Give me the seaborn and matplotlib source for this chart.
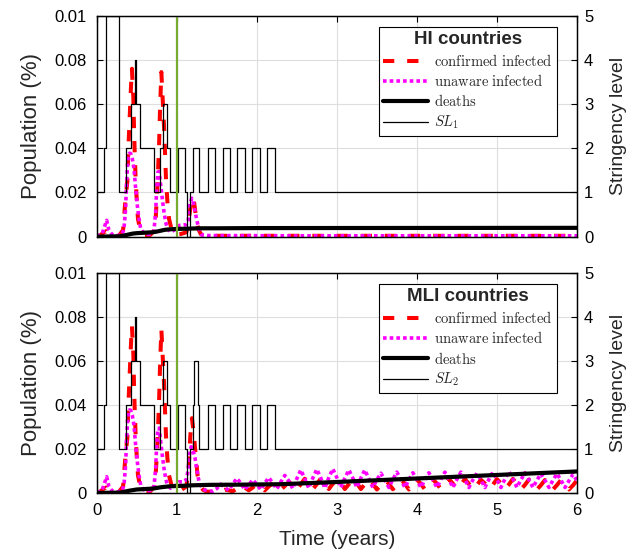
import numpy as np
import pandas as pd
import matplotlib
matplotlib.use("Agg")
import matplotlib.pyplot as plt
import seaborn as sns

# values (time in years, population in %)

# first two waves, about the same in both groups of countries
t_wave = [0, 0.05, 0.09, 0.12, 0.16, 0.22, 0.28, 0.33, 0.36, 0.383, 0.395, 0.41, 0.425, 0.44,
          0.458, 0.466, 0.475, 0.487, 0.50, 0.516, 0.55, 0.6, 0.67, 0.72, 0.737, 0.758, 0.779,
          0.791, 0.808, 0.825, 0.841, 0.854, 0.866, 0.883, 0.904, 0.945, 0.99, 1.05]
conf_wave = [0, 0.0008, 0.002, 0.0025, 0.0012, 0.0006, 0.0006, 0.003, 0.017, 0.025, 0.039, 0.052,
             0.065, 0.076, 0.063, 0.050, 0.038, 0.026, 0.017, 0.008, 0.002, 0.0008, 0.0008, 0.003,
             0.008, 0.022, 0.041, 0.057, 0.0745, 0.062, 0.050, 0.038, 0.026, 0.016, 0.008, 0.002,
             0.001, 0.0012]
t_unaw_wave = [0, 0.05, 0.07, 0.091, 0.125, 0.153, 0.195, 0.26, 0.32, 0.341, 0.362, 0.37, 0.383,
               0.395, 0.41, 0.425, 0.445, 0.466, 0.487, 0.508, 0.529, 0.55, 0.59, 0.65, 0.70,
               0.716, 0.737, 0.749, 0.766, 0.78, 0.80, 0.82, 0.841, 0.862, 0.883, 0.925, 0.97, 1.03]
unaw_wave = [0.0003, 0.0008, 0.0015, 0.0038, 0.0074, 0.0029, 0.0009, 0.0005, 0.0012, 0.0036,
             0.0127, 0.0217, 0.0308, 0.0368, 0.0378, 0.0376, 0.0353, 0.0308, 0.0217, 0.0141,
             0.0081, 0.0036, 0.0014, 0.001, 0.0015, 0.0029, 0.0112, 0.0217, 0.0293, 0.0295,
             0.0232, 0.0171, 0.0112, 0.0066, 0.0036, 0.0021, 0.003, 0.0051]

# HI countries: small third wave then nothing
t_conf_hi_tail = [1.12, 1.145, 1.17, 1.2, 1.215, 1.23, 1.25, 1.27, 1.3, 1.35, 1.5, 2.5, 4, 6]
conf_hi_tail = [0.002, 0.006, 0.013, 0.018, 0.016, 0.012, 0.007, 0.0035, 0.0012, 0.0005,
                0.0004, 0.0004, 0.0004, 0.0004]
t_unaw_hi_tail = [1.08, 1.12, 1.145, 1.158, 1.187, 1.208, 1.229, 1.25, 1.27, 1.29, 1.31, 1.4,
                  2.5, 4, 6]
unaw_hi_tail = [0.0052, 0.0055, 0.0076, 0.0136, 0.0174, 0.0152, 0.0114, 0.0076, 0.0046, 0.0023,
                0.0008, 0.0005, 0.0004, 0.0004, 0.0004]
t_deaths_hi = [0, 0.3, 0.35, 0.4, 0.45, 0.5, 0.6, 0.7, 0.75, 0.8, 0.85, 0.9, 1.0, 1.1, 1.2, 1.3,
               1.5, 2, 6]
deaths_hi = [0, 0.0002, 0.0006, 0.001, 0.0014, 0.0016, 0.0018, 0.002, 0.0023, 0.0027, 0.0031,
             0.0033, 0.0035, 0.0036, 0.0037, 0.0038, 0.0038, 0.0039, 0.0040]

# MLI countries: bigger third wave, then endemic ripples
t_conf_mli_tail = [1.12, 1.15, 1.17, 1.19, 1.21, 1.23, 1.245, 1.26, 1.29, 1.33, 1.38]
conf_mli_tail = [0.003, 0.012, 0.026, 0.034, 0.028, 0.020, 0.014, 0.008, 0.0037, 0.0014, 0.0006]
t_unaw_mli_tail = [1.08, 1.12, 1.145, 1.16, 1.18, 1.20, 1.229, 1.25, 1.27, 1.29, 1.35, 1.40]
unaw_mli_tail = [0.005, 0.006, 0.011, 0.0173, 0.021, 0.020, 0.0158, 0.0112, 0.0067, 0.0037,
                 0.0014, 0.0009]
t_ripple = np.round(np.arange(1.45, 6.001, 0.05), 2)
conf_ripple = [0.0006, 0.0004, 0.0008, 0.0015, 0.0012, 0.0008, 0.002, 0.0038,
               0.0025, 0.0012, 0.0025, 0.004, 0.003, 0.0012, 0.003, 0.0045,
               0.0032, 0.0014, 0.0032, 0.005, 0.0038, 0.0015, 0.004, 0.0065,
               0.0045, 0.0018, 0.004, 0.0066, 0.0045, 0.0018, 0.0042, 0.0068,
               0.0046, 0.0018, 0.004, 0.0066, 0.0045, 0.0018, 0.004, 0.0064,
               0.0042, 0.0016, 0.0036, 0.006, 0.0042, 0.0017, 0.0038, 0.0062,
               0.0042, 0.0016, 0.0037, 0.0061, 0.0042, 0.0016, 0.0037, 0.0061,
               0.0043, 0.0017, 0.0038, 0.0063, 0.0043, 0.0017, 0.0038, 0.0063,
               0.0042, 0.0016, 0.0036, 0.006, 0.0043, 0.0017, 0.0038, 0.0063,
               0.0044, 0.0017, 0.0039, 0.0064, 0.0042, 0.0016, 0.0037, 0.0061,
               0.0041, 0.0016, 0.0036, 0.0059, 0.0041, 0.0016, 0.0036, 0.0059,
               0.004, 0.0016, 0.0035, 0.0058]
unaw_ripple = [0.0008, 0.002, 0.004, 0.0025, 0.0012, 0.004, 0.0067, 0.0045,
               0.0015, 0.0038, 0.006, 0.004, 0.0015, 0.0045, 0.007, 0.0045,
               0.0018, 0.005, 0.008, 0.0055, 0.002, 0.0065, 0.0105, 0.0065,
               0.0022, 0.0068, 0.0108, 0.0068, 0.0022, 0.007, 0.011, 0.007,
               0.0025, 0.0068, 0.0105, 0.0068, 0.0025, 0.0068, 0.0105, 0.0065,
               0.0025, 0.006, 0.009, 0.006, 0.0025, 0.0062, 0.0095, 0.0062,
               0.0025, 0.006, 0.0092, 0.006, 0.0025, 0.006, 0.0092, 0.006,
               0.0025, 0.0062, 0.0095, 0.0062, 0.0025, 0.0062, 0.0095, 0.0062,
               0.0025, 0.006, 0.009, 0.006, 0.0025, 0.0062, 0.0095, 0.0062,
               0.0025, 0.0064, 0.0098, 0.0064, 0.0025, 0.006, 0.0092, 0.006,
               0.0025, 0.0058, 0.0088, 0.0058, 0.0025, 0.0058, 0.0088, 0.0058,
               0.0025, 0.0056, 0.0085, 0.0056]
t_deaths_mli = [0, 0.3, 0.4, 0.5, 0.6, 0.7, 0.8, 0.9, 1.0, 1.1, 1.2, 1.4, 1.8, 2.3, 3, 4, 5, 6]
deaths_mli = [0, 0.0002, 0.001, 0.0016, 0.0018, 0.002, 0.0026, 0.003, 0.0032, 0.0033, 0.0035,
              0.0037, 0.0038, 0.0040, 0.0050, 0.0066, 0.0082, 0.0098]

# stringency level (step changes)
t_sl = [0, 0.091, 0.12, 0.279, 0.37, 0.425, 0.475, 0.487, 0.537, 0.716, 0.79, 0.833, 0.875,
        0.92, 1.02, 1.10, 1.125, 1.16, 1.2, 1.22, 1.26, 1.283, 1.395, 1.479, 1.575, 1.666,
        1.758, 1.854, 1.937, 2.04, 2.125, 2.229, 6]
sl_1 = [1, 2, 5, 1, 2, 3, 4, 3, 2, 1, 2, 3, 2, 1, 2, 1, 0, 1, 2, 2, 2, 1, 2, 1, 2, 1, 2, 1, 2,
        1, 2, 1, 1]
sl_2 = [1, 2, 5, 1, 2, 3, 4, 3, 2, 1, 2, 3, 2, 1, 2, 1, 0, 1, 2, 3, 2, 1, 2, 1, 2, 1, 2, 1, 2,
        1, 2, 1, 1]

t_marker = [1.0]

ytick_vals = [0, 0.02, 0.04, 0.06, 0.08, 0.1]
ytick_text = ['0', '0.02', '0.04', '0.06', '0.08', '0.01']
xtick_vals = [0, 1, 2, 3, 4, 5, 6]

sns.set_theme(style='white')
plt.rcParams['font.family'] = ['Liberation Sans', 'DejaVu Sans']
plt.rcParams['mathtext.fontset'] = 'cm'

RED = '#FF0000'
MAG = '#FF00FF'
GREEN = '#77AC30'

fig = plt.figure(figsize=(6.29, 5.53), dpi=100)
ax_top = fig.add_axes([0.1537, 0.5720, 0.7636, 0.3996])
ax_bot = fig.add_axes([0.1537, 0.1085, 0.7636, 0.3978])

panels = [
    (ax_top, t_wave + t_conf_hi_tail, conf_wave + conf_hi_tail,
     t_unaw_wave + t_unaw_hi_tail, unaw_wave + unaw_hi_tail,
     t_deaths_hi, deaths_hi, sl_1, 'HI countries', r'$SL_1$', 0.949),
    (ax_bot, t_wave + t_conf_mli_tail + list(t_ripple), conf_wave + conf_mli_tail + conf_ripple,
     t_unaw_wave + t_unaw_mli_tail + list(t_ripple), unaw_wave + unaw_mli_tail + unaw_ripple,
     t_deaths_mli, deaths_mli, sl_2, 'MLI countries', r'$SL_2$', 0.95),
]

for ax, tc, conf, tu, unaw, td, deaths, sl, title, sl_lab, leg_y in panels:
    df_c = pd.DataFrame({'t': tc, 'v': conf})
    df_u = pd.DataFrame({'t': tu, 'v': unaw})
    df_d = pd.DataFrame({'t': td, 'v': deaths})
    df_s = pd.DataFrame({'t': t_sl, 'sl': sl})

    sns.lineplot(data=df_c, x='t', y='v', ax=ax, color=RED, lw=2.9, linestyle=(0, (2.8, 3.2)),
                 estimator=None, sort=False, legend=False, label=r'$\mathrm{confirmed\ infected}$')
    sns.lineplot(data=df_u, x='t', y='v', ax=ax, color=MAG, lw=2.6, linestyle=(0, (1, 0.85)),
                 estimator=None, sort=False, legend=False, label=r'$\mathrm{unaware\ infected}$')
    sns.lineplot(data=df_d, x='t', y='v', ax=ax, color='black', lw=3,
                 estimator=None, sort=False, legend=False, label=r'$\mathrm{deaths}$')

    ax2 = ax.twinx()
    sns.lineplot(data=df_s, x='t', y='sl', ax=ax2, color='black', lw=0.9, drawstyle='steps-post',
                 estimator=None, sort=False, legend=False, label=sl_lab)
    for tm in t_marker:
        ax2.axvline(tm, color=GREEN, lw=1.6)

    ax.set_xlim(0, 6)
    ax.set_ylim(0, 0.1)
    ax.set_xticks(xtick_vals)
    ax.set_yticks(ytick_vals)
    ax.set_yticklabels(ytick_text)
    ax2.set_ylim(0, 5)
    ax2.set_yticks([0, 1, 2, 3, 4, 5])
    ax.grid(True, color='#dedede', lw=0.8)
    ax.set_axisbelow(True)

    ax.tick_params(direction='in', length=4, width=0.8, top=True, right=False,
                   labelsize=12, colors='black')
    ax.tick_params(axis='y', pad=7)
    ax.tick_params(axis='x', pad=7)
    ax2.tick_params(direction='in', length=4, width=0.8, labelsize=12, colors='black', pad=5)
    for a in (ax, ax2):
        for s in a.spines.values():
            s.set_color('black')
            s.set_linewidth(0.9)

    ax.set_ylabel('Population (%)', fontsize=16, labelpad=9)
    ax2.set_ylabel('Stringency level', fontsize=14, labelpad=12)
    ax.set_xlabel('')
    ax2.set_xlabel('')

    handles = ax.get_lines()[:3] + [ax2.get_lines()[0]]
    leg = ax2.legend(handles=handles, labels=[h.get_label() for h in handles],
                     title=title, loc='upper right', bbox_to_anchor=(0.958, leg_y),
                     borderaxespad=0, fontsize=10.5, handlelength=3.1, labelspacing=0.3,
                     handletextpad=0.4, borderpad=0.3, fancybox=False, framealpha=1,
                     edgecolor='black', title_fontproperties={'weight': 'bold', 'size': 13.5})
    leg.get_frame().set_linewidth(0.8)

ax_top.tick_params(labelbottom=False)
ax_bot.set_xlabel('Time (years)', fontsize=15, labelpad=9)

fig.savefig('out.png', dpi=100)
